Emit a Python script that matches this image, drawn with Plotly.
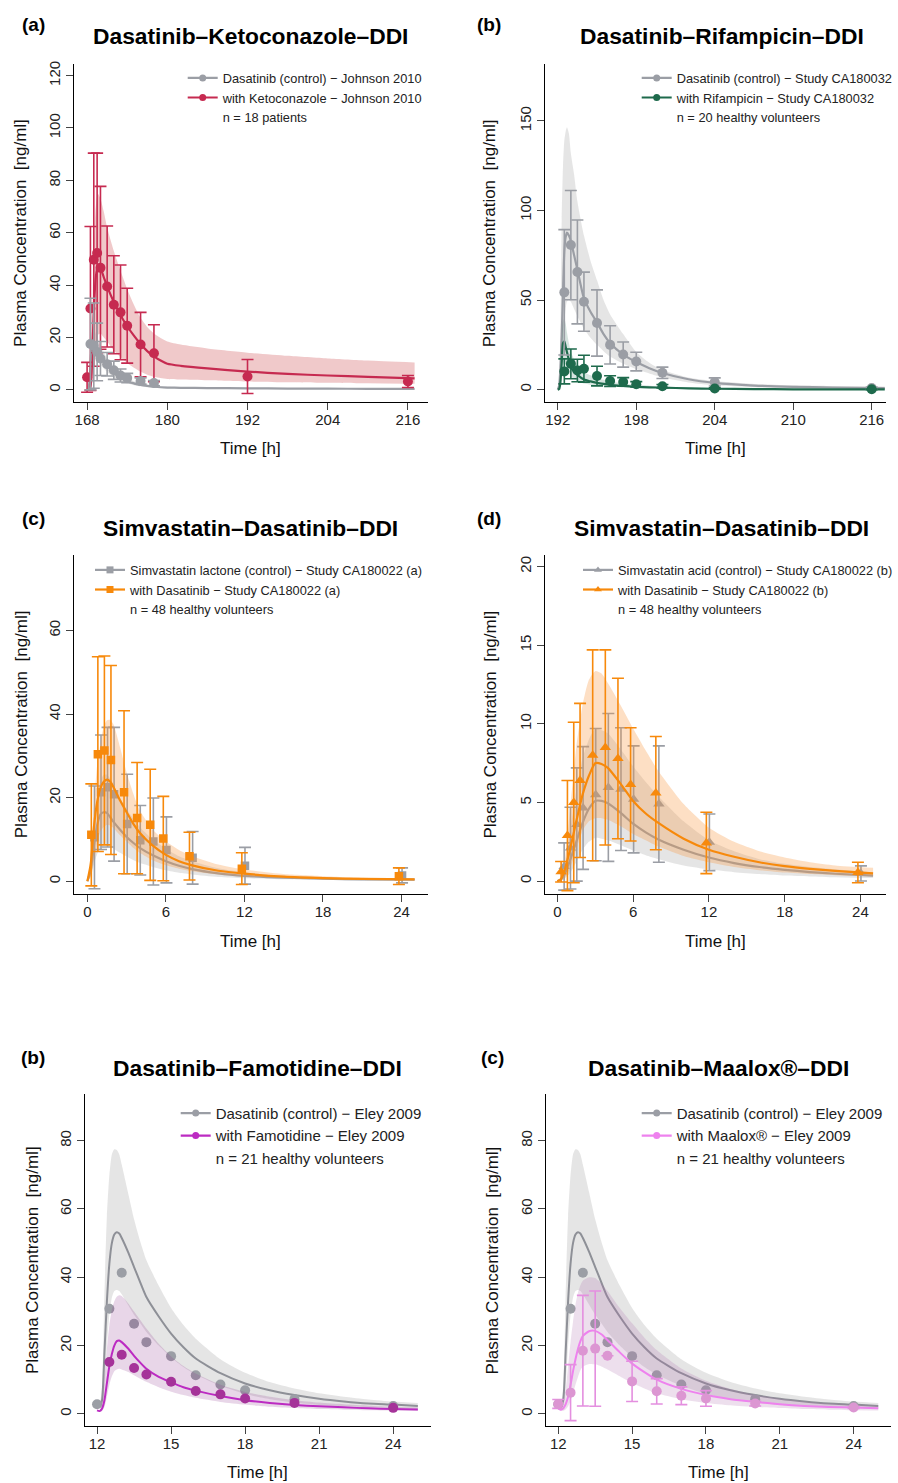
import plotly.graph_objects as go

# ---------------------------------------------------------------- data ----
# (a) Dasatinib - Ketoconazole (Johnson 2010)
a_ctrl_t = [168.5, 169, 169.5, 170, 171, 172, 173, 174, 176, 178]
a_ctrl_mean = [17.5, 16.9, 14.5, 12.0, 9.8, 7.5, 5.5, 4.5, 3.4, 2.6]
a_ctrl_sd = [17.5, 16.3, 11.0, 6.5, 4.5, 3.5, 2.5, 1.8, 1.2, 1.0]
a_keto_t = [168, 168.5, 169, 169.5, 170, 171, 172, 173, 174, 176, 178, 192, 216]
a_keto_mean = [4.8, 31.1, 49.7, 52.3, 46.6, 39.5, 32.5, 29.6, 24.5, 17.3, 14.0, 5.1, 3.2]
a_keto_sd = [5.7, 31.3, 40.7, 38.1, 31.1, 23.1, 18.7, 18.1, 14.3, 12.3, 10.9, 6.5, 2.3]
a_t_sim = [168.0, 168.2, 168.4, 168.6, 168.8, 169.0, 169.3, 169.6, 170.0, 170.5, 171, 172, 173, 174,
           175, 176, 177, 178, 179, 180, 182, 186, 192, 198, 204, 210, 217]
a_keto_sim = [0.3, 0.3, 0.5, 3, 15, 30, 43, 47.3, 46.5, 43, 39.5, 33.5, 28.5, 24.3, 20.7, 17.5, 14.8,
              12.8, 11.2, 10.0, 9.2, 8.2, 7.0, 6.1, 5.5, 5.0, 4.4]
a_keto_hi = [0.5, 0.5, 1, 8, 30, 55, 70, 75, 73, 68, 62, 53, 45.5, 38.5, 32.5, 27.5, 24, 21.5, 19.8,
             18.5, 17.3, 15.8, 14.2, 13.0, 12.0, 11.2, 10.5]
a_keto_lo = [0.1, 0.1, 0.2, 1, 4, 10, 17, 21, 21.5, 20, 18.5, 15, 12.5, 10.3, 8.5, 7.0, 5.8, 5.0, 4.5,
             4.2, 4.0, 3.7, 3.2, 2.9, 2.7, 2.5, 2.3]
a_ctrl_sim = [0.2, 0.5, 5, 14, 18.5, 18, 16.5, 15, 13.2, 11.2, 9.3, 6.5, 4.6, 3.3, 2.5, 1.9, 1.5, 1.2,
              1.0, 0.9, 0.8, 0.7, 0.6, 0.5, 0.45, 0.42, 0.4]
a_ctrl_hi = [0.3, 0.8, 7, 19, 24, 23.5, 21.5, 19.5, 17, 14.5, 12, 8.5, 6, 4.3, 3.3, 2.5, 2.0, 1.6,
             1.35, 1.2, 1.05, 0.95, 0.8, 0.7, 0.62, 0.57, 0.55]
a_ctrl_lo = [0.1, 0.3, 3, 9.5, 13, 13, 12, 11, 9.6, 8.2, 6.8, 4.7, 3.3, 2.4, 1.8, 1.35, 1.05, 0.85,
             0.72, 0.63, 0.56, 0.5, 0.43, 0.36, 0.32, 0.3, 0.28]

# (b) Dasatinib - Rifampicin (Study CA180032)
b_t_obs = [192.5, 193, 193.5, 194, 195, 196, 197, 198, 200, 204, 216]
b_ctrl_mean = [54.3, 80.7, 65.7, 49.1, 37.2, 25.0, 19.6, 15.7, 9.4, 4.3, 0.9]
b_ctrl_sd = [35.0, 30.5, 29.0, 16.5, 18.5, 10.7, 7.0, 5.2, 3.2, 2.3, 0.5]
b_rif_mean = [10.2, 14.4, 10.7, 11.7, 7.6, 4.8, 4.3, 3.0, 1.9, 0.6, 0.2]
b_rif_sd = [7.0, 8.3, 6.3, 7.5, 5.5, 3.0, 2.4, 1.5, 1.0, 0.4, 0.2]
b_t_sim = [192.0, 192.1, 192.2, 192.3, 192.4, 192.5, 192.6, 192.7, 192.85, 193.0, 193.25, 193.5,
           194.0, 194.5, 195, 195.5, 196, 197, 198, 199, 200, 202, 204, 207, 210, 213, 217]
b_ctrl_sim = [0, 2, 12, 30, 55, 77, 85, 87.6, 86, 83, 75, 67, 51, 43.5, 37.5, 31, 26, 19.5, 15.4, 12,
              9.3, 5.8, 3.8, 2.3, 1.6, 1.2, 0.9]
b_ctrl_hi = [0, 5, 30, 95, 125, 139, 144, 146.5, 143, 132, 120, 105, 86, 72, 61, 50, 42, 31, 21, 15,
             11, 6.8, 4.8, 3.2, 2.4, 2.0, 1.7]
b_ctrl_lo = [0, 0.5, 3, 12, 25, 38, 45, 49, 50, 49, 45, 41, 34, 29, 25, 21.5, 18.5, 14.5, 11.5, 9,
             6.8, 4.0, 2.4, 1.3, 0.8, 0.6, 0.4]
b_rif_sim = [0, 0.3, 4, 15, 26, 27, 24, 21, 16.5, 12.5, 10, 8.2, 5.6, 4.6, 3.8, 3.2, 2.7, 2.1, 1.6,
             1.3, 1.1, 0.75, 0.5, 0.3, 0.2, 0.15, 0.1]
b_rif_hi = [0, 0.5, 7, 25, 38, 40, 37, 32, 26, 21, 17, 14, 10, 8, 6.5, 5.5, 4.6, 3.5, 2.7, 2.2, 1.8,
            1.2, 0.8, 0.5, 0.35, 0.25, 0.2]
b_rif_lo = [0, 0.1, 2, 8, 14, 15, 14, 12, 9.5, 7.5, 6, 5, 3.4, 2.8, 2.3, 1.9, 1.6, 1.2, 0.9, 0.75,
            0.6, 0.4, 0.25, 0.15, 0.1, 0.07, 0.05]

# (c) Simvastatin lactone - Dasatinib (Study CA180022 (a))
c_t_obs = [0.5, 1, 1.5, 2, 3, 4, 5, 6, 8, 12, 24]
c_ctrl_mean = [10.5, 21.3, 22.5, 20.8, 13.7, 9.8, 9.5, 7.5, 5.6, 3.7, 1.4]
c_ctrl_sd = [12.3, 13.7, 14.3, 16.0, 11.9, 8.3, 10.4, 7.9, 6.3, 4.4, 1.8]
c_dasa_mean = [11.1, 30.4, 31.3, 29.0, 21.3, 15.1, 13.5, 10.2, 6.0, 3.0, 1.2]
c_dasa_sd = [12.2, 23.3, 22.6, 22.6, 19.5, 13.3, 13.3, 10.1, 5.7, 3.8, 2.0]
c_t_sim = [0, 0.25, 0.5, 0.75, 1.0, 1.25, 1.5, 1.75, 2.0, 2.5, 3, 3.5, 4, 5, 6, 7, 8, 10, 12, 15,
           18, 21, 25]
c_dasa_sim = [0, 4, 13, 19, 22.3, 23.8, 24.3, 23.8, 22.5, 19.3, 16.5, 13.8, 11.6, 8.5, 6.3, 4.8, 3.8,
              2.5, 1.8, 1.1, 0.75, 0.55, 0.45]
c_dasa_hi = [0, 6, 18, 28, 33, 37, 38.5, 38.6, 37.5, 32, 26, 21, 17, 12.3, 9.5, 7.5, 6.0, 4.0, 2.8,
             1.7, 1.2, 0.85, 0.7]
c_dasa_lo = [0, 1, 5, 9, 12, 13, 13.5, 13.3, 12.7, 11, 9.5, 8, 6.8, 5, 3.8, 3.0, 2.4, 1.6, 1.1, 0.7,
             0.45, 0.35, 0.3]
c_ctrl_sim = [0, 2.5, 8.5, 13.5, 16, 16.5, 16.3, 15.3, 14.2, 12.3, 10.6, 9.2, 8.0, 6.2, 4.8, 3.7,
              2.9, 1.9, 1.3, 0.85, 0.6, 0.45, 0.4]
c_ctrl_hi = [0, 4, 13, 20, 24, 25.5, 25.5, 24.5, 23, 20, 17.3, 15, 13, 10, 7.8, 6.0, 4.8, 3.1, 2.1,
             1.3, 0.95, 0.7, 0.6]
c_ctrl_lo = [0, 1, 4, 6.5, 8, 8.5, 8.5, 8.2, 7.8, 6.8, 5.9, 5.1, 4.4, 3.4, 2.6, 2.0, 1.6, 1.0, 0.7,
             0.45, 0.3, 0.25, 0.2]

# (d) Simvastatin acid - Dasatinib (Study CA180022 (b))
d_t_obs = [0.5, 1, 1.5, 2, 3, 4, 5, 6, 8, 12, 24]
d_ctrl_mean = [0.93, 2.1, 3.6, 4.65, 5.5, 5.96, 5.85, 5.2, 4.9, 2.47, 0.49]
d_ctrl_sd = [1.5, 2.6, 3.6, 3.9, 4.2, 4.7, 3.9, 3.4, 3.7, 1.8, 0.48]
d_dasa_mean = [0.6, 2.9, 5.0, 6.4, 8.0, 8.5, 7.8, 6.15, 5.6, 2.43, 0.55]
d_dasa_sd = [0.65, 3.5, 5.1, 4.9, 6.7, 6.2, 5.1, 3.6, 3.6, 1.95, 0.65]
d_t_sim = [0, 0.25, 0.5, 0.75, 1.0, 1.5, 2.0, 2.5, 3.0, 3.5, 4, 5, 6, 7, 8, 10, 12, 14, 16, 18, 20,
           22, 25]
d_dasa_sim = [0, 0.1, 0.5, 1.2, 2.0, 3.8, 5.5, 6.7, 7.5, 7.45, 7.2, 6.2, 5.1, 4.3, 3.7, 2.7, 2.0,
              1.55, 1.2, 0.95, 0.78, 0.65, 0.5]
d_dasa_hi = [0, 0.2, 0.8, 2.5, 4.5, 8.5, 11.2, 12.8, 13.35, 13.2, 12.6, 11.2, 9.7, 8.3, 7.0, 4.9, 3.4,
             2.5, 1.9, 1.5, 1.2, 1.0, 0.85]
d_dasa_lo = [0, 0.05, 0.1, 0.4, 0.8, 2.0, 3.2, 3.8, 4.0, 4.0, 3.9, 3.5, 3.0, 2.6, 2.2, 1.6, 1.2, 0.9,
             0.7, 0.55, 0.45, 0.38, 0.3]
d_ctrl_sim = [0, 0.1, 0.3, 0.8, 1.3, 2.5, 3.7, 4.6, 5.1, 5.1, 4.95, 4.35, 3.65, 3.1, 2.65, 2.0, 1.5,
              1.15, 0.9, 0.72, 0.58, 0.47, 0.35]
d_ctrl_hi = [0, 0.1, 0.6, 1.7, 3.0, 5.8, 7.8, 9.0, 9.7, 9.6, 9.4, 8.4, 7.3, 6.3, 5.4, 3.8, 2.6, 1.9,
             1.4, 1.1, 0.9, 0.75, 0.55]
d_ctrl_lo = [0, 0.05, 0.1, 0.3, 0.5, 1.2, 2.0, 2.5, 2.75, 2.7, 2.6, 2.3, 1.95, 1.65, 1.4, 1.0, 0.75,
             0.57, 0.45, 0.36, 0.3, 0.25, 0.2]

# (e)/(f) Dasatinib - Famotidine / Maalox (Eley 2009)
ef_ctrl_t = [12, 12.5, 13, 13.5, 14, 15, 16, 17, 18, 20, 24]
ef_ctrl_mean = [2.8, 30.8, 41.3, 26.4, 21.0, 16.9, 11.3, 8.6, 6.9, 4.3, 2.3]
e_famo_t = [12.5, 13, 13.5, 14, 15, 16, 17, 18, 20, 24]
e_famo_mean = [15.2, 17.3, 13.4, 11.5, 9.4, 6.7, 5.7, 4.5, 3.2, 1.75]
f_maal_t = [12, 12.5, 13, 13.5, 14, 15, 16, 17, 18, 20, 24]
f_maal_mean = [2.9, 6.2, 18.5, 19.1, 17.0, 9.5, 6.6, 5.3, 4.5, 3.0, 1.85]
f_maal_sd = [1.3, 8.2, 16.2, 16.9, None, 5.9, 3.7, 2.6, 2.3, 0.7, 0.3]
ef_t_sim = [12.0, 12.1, 12.2, 12.3, 12.4, 12.5, 12.6, 12.7, 12.8, 12.9, 13.0, 13.25, 13.5, 13.75,
            14.0, 14.5, 15.0, 15.5, 16.0, 17.0, 18.0, 19.0, 20.0, 21.0, 22.0, 23.0, 24.0, 25.0]
ef_ctrl_sim = [3.0, 2.3, 4.0, 18, 33, 44, 50, 52.5, 53.2, 52.8, 51.5, 47.5, 43, 38.5, 34.2, 28.5,
               23.5, 19.5, 16.2, 11.9, 8.9, 6.9, 5.5, 4.4, 3.6, 3.0, 2.7, 2.3]
ef_ctrl_hi = [3.5, 3.0, 8, 35, 58, 70, 76, 77.5, 77.3, 76, 73, 65, 57, 50.5, 45, 37.5, 31, 26, 22,
              16, 12, 9.3, 7.4, 6.0, 5.0, 4.2, 3.6, 3.2]
ef_ctrl_lo = [2.5, 1.6, 2.0, 8, 20, 29, 34, 36, 36.3, 36, 35, 32, 29, 26.5, 24, 20, 16.5, 13.7, 11.5,
              8.2, 5.8, 4.3, 3.3, 2.6, 2.2, 1.9, 1.7, 1.5]
e_famo_sim = [1.0, 0.8, 1.5, 4, 9, 14, 17.5, 20, 21.3, 21.5, 21.0, 19.2, 17.0, 15.0, 13.2, 10.8, 9.2,
              7.8, 6.8, 5.2, 4.0, 3.2, 2.6, 2.2, 1.9, 1.6, 1.45, 1.3]
e_famo_hi = [1.2, 1.0, 3, 10, 19, 26, 30.5, 33, 34.3, 34.7, 34.5, 32.5, 30, 27.5, 25, 20.5, 16.8, 14,
             11.8, 8.5, 6.4, 5.0, 4.0, 3.3, 2.8, 2.4, 2.1, 1.9]
e_famo_lo = [0.8, 0.6, 0.8, 2, 5, 8.5, 11, 12.5, 13.0, 13.2, 13.0, 12.3, 11.3, 10.3, 9.4, 7.8, 6.5,
             5.5, 4.7, 3.5, 2.7, 2.1, 1.7, 1.4, 1.2, 1.05, 0.95, 0.85]
f_maal_sim = [1.5, 1.2, 1.6, 2.8, 5, 8.5, 12.5, 16, 19, 21.3, 22.8, 24.2, 24.3, 23.3, 21.6, 18.0,
              14.7, 12.2, 10.0, 7.3, 5.5, 4.3, 3.5, 2.8, 2.3, 2.0, 1.85, 1.65]
f_maal_hi = [1.8, 1.5, 3.0, 7, 14, 21, 27, 32, 35.5, 37.7, 39, 40, 39.8, 38.2, 36, 31, 26.5, 22.3,
             18.7, 13.3, 9.7, 7.3, 5.6, 4.5, 3.6, 3.0, 2.6, 2.4]
f_maal_lo = [1.2, 0.9, 0.9, 1.3, 2.2, 3.8, 6, 8.5, 10.8, 12.8, 13.8, 14.6, 14.5, 13.9, 13.0, 11.0,
             9.0, 7.4, 6.0, 4.3, 3.2, 2.5, 2.0, 1.7, 1.4, 1.2, 1.05, 0.95]

# ------------------------------------------------------------- styling ----
FONT = "Liberation Sans, Arial, Helvetica, sans-serif"
W, H = 898, 1483
GRAY = "#9B9EA5"
RED = "#C62A50"
GREEN = "#1E6A4C"
ORANGE = "#F7890B"
PURPLE_LINE = "#BC2BC2"
PURPLE_PT = "#A53399"
PINK_LINE = "#EE82EE"
PINK_PT = "#DC96D2"
GRAY_BAND = "rgba(160,160,160,0.28)"
RED_BAND = "rgba(205,75,80,0.30)"
GREEN_BAND = "rgba(30,106,76,0.18)"
ORANGE_BAND = "rgba(250,150,60,0.30)"
PURPLE_BAND = "rgba(140,50,140,0.20)"
PINK_BAND = "rgba(175,110,175,0.22)"
DODGE_TRT = -0.2
DODGE_CTRL = 0.04

# panel geometry in pixels (left, right), (top, bottom)
panels = {
    1: dict(px=(74, 427.7), py=(60.7, 400), xr=[166.04, 218.96], yr=[-4.7, 124.6],
            xt=[168, 180, 192, 204, 216], yt=[0, 20, 40, 60, 80, 100, 120]),
    2: dict(px=(544.7, 885.7), py=(60.7, 400), xr=[191.0, 217.07], yr=[-7, 182],
            xt=[192, 198, 204, 210, 216], yt=[0, 50, 100, 150]),
    3: dict(px=(74.3, 427.7), py=(552.7, 892.7), xr=[-1.0, 26.0], yr=[-3.03, 78.15],
            xt=[0, 6, 12, 18, 24], yt=[0, 20, 40, 60]),
    4: dict(px=(544.7, 885.7), py=(552.7, 892.7), xr=[-1.0, 26.0], yr=[-0.81, 20.76],
            xt=[0, 6, 12, 18, 24], yt=[0, 5, 10, 15, 20]),
    5: dict(px=(84.7, 430.7), py=(1093.3, 1426), xr=[11.5, 25.52], yr=[-3.6, 93.66],
            xt=[12, 15, 18, 21, 24], yt=[0, 20, 40, 60, 80]),
    6: dict(px=(545.7, 891.3), py=(1093.3, 1426), xr=[11.49, 25.53], yr=[-3.6, 93.66],
            xt=[12, 15, 18, 21, 24], yt=[0, 20, 40, 60, 80]),
}

fig = go.Figure()


def axref(i):
    return ("x" if i == 1 else f"x{i}"), ("y" if i == 1 else f"y{i}")


def band(i, t, lo, hi, color):
    xa, ya = axref(i)
    fig.add_trace(go.Scatter(x=t, y=lo, mode="lines", line=dict(width=0, shape="spline", smoothing=0.6),
                             hoverinfo="skip", showlegend=False, xaxis=xa, yaxis=ya))
    fig.add_trace(go.Scatter(x=t, y=hi, mode="lines", line=dict(width=0, shape="spline", smoothing=0.6),
                             fill="tonexty", fillcolor=color, hoverinfo="skip", showlegend=False,
                             xaxis=xa, yaxis=ya))


def sim(i, t, y, color, width=2.2):
    xa, ya = axref(i)
    fig.add_trace(go.Scatter(x=t, y=y, mode="lines", line=dict(color=color, width=width, shape="spline",
                                                                smoothing=0.6),
                             showlegend=False, xaxis=xa, yaxis=ya))


def obs(i, t, mean, sd, color, symbol="circle", size=10, dodge=0.0, ecolor=None, opacity=1.0):
    xa, ya = axref(i)
    err = None
    if sd is not None:
        err = dict(type="data", array=sd, visible=True, color=ecolor or color, thickness=1.6, width=6)
    fig.add_trace(go.Scatter(x=[v + dodge for v in t], y=mean, mode="markers",
                             marker=dict(symbol=symbol, size=size, color=color, line=dict(width=0)),
                             error_y=err, opacity=opacity, showlegend=False, xaxis=xa, yaxis=ya))


def legend_entry(i, name, color, symbol="circle"):
    xa, ya = axref(i)
    lg = "legend" if i == 1 else f"legend{i}"
    if color is None:
        fig.add_trace(go.Scatter(x=[None], y=[None], mode="lines", name=name,
                                 line=dict(color="rgba(0,0,0,0)", width=0),
                                 legend=lg, showlegend=True, xaxis=xa, yaxis=ya))
    else:
        fig.add_trace(go.Scatter(x=[None], y=[None], mode="lines+markers", name=name,
                                 line=dict(color=color, width=2.2),
                                 marker=dict(symbol=symbol, size=7, color=color),
                                 legend=lg, showlegend=True, xaxis=xa, yaxis=ya))


# (a)
band(1, a_t_sim, a_keto_lo, a_keto_hi, RED_BAND)
band(1, a_t_sim, a_ctrl_lo, a_ctrl_hi, GRAY_BAND)
sim(1, a_t_sim, a_keto_sim, RED)
sim(1, a_t_sim, a_ctrl_sim, GRAY)
obs(1, a_keto_t, a_keto_mean, a_keto_sd, RED)
obs(1, a_ctrl_t, a_ctrl_mean, a_ctrl_sd, GRAY)
legend_entry(1, "Dasatinib (control) \u2212 Johnson 2010", GRAY)
legend_entry(1, "with Ketoconazole \u2212 Johnson 2010", RED)
legend_entry(1, "n = 18 patients", None)

# (b)
band(2, b_t_sim, b_ctrl_lo, b_ctrl_hi, GRAY_BAND)
sim(2, b_t_sim, b_ctrl_sim, GRAY)
band(2, b_t_sim, b_rif_lo, b_rif_hi, GREEN_BAND)
sim(2, b_t_sim, b_rif_sim, GREEN)
obs(2, b_t_obs, b_ctrl_mean, b_ctrl_sd, GRAY)
obs(2, b_t_obs, b_rif_mean, b_rif_sd, GREEN)
legend_entry(2, "Dasatinib (control) \u2212 Study CA180032", GRAY)
legend_entry(2, "with Rifampicin \u2212 Study CA180032", GREEN)
legend_entry(2, "n = 20 healthy volunteers", None)

# (c)
band(3, c_t_sim, c_ctrl_lo, c_ctrl_hi, GRAY_BAND)
sim(3, c_t_sim, c_ctrl_sim, GRAY)
obs(3, c_t_obs, c_ctrl_mean, c_ctrl_sd, GRAY, symbol="square", size=8.5, dodge=DODGE_CTRL)
band(3, c_t_sim, c_dasa_lo, c_dasa_hi, ORANGE_BAND)
sim(3, c_t_sim, c_dasa_sim, ORANGE)
obs(3, c_t_obs, c_dasa_mean, c_dasa_sd, ORANGE, symbol="square", size=8.5, dodge=DODGE_TRT)
legend_entry(3, "Simvastatin lactone (control) \u2212 Study CA180022 (a)", GRAY, "square")
legend_entry(3, "with Dasatinib \u2212 Study CA180022 (a)", ORANGE, "square")
legend_entry(3, "n = 48 healthy volunteers", None)

# (d)
band(4, d_t_sim, d_ctrl_lo, d_ctrl_hi, GRAY_BAND)
sim(4, d_t_sim, d_ctrl_sim, GRAY)
obs(4, d_t_obs, d_ctrl_mean, d_ctrl_sd, GRAY, symbol="triangle-up", size=10, dodge=DODGE_CTRL)
band(4, d_t_sim, d_dasa_lo, d_dasa_hi, ORANGE_BAND)
sim(4, d_t_sim, d_dasa_sim, ORANGE)
obs(4, d_t_obs, d_dasa_mean, d_dasa_sd, ORANGE, symbol="triangle-up", size=10, dodge=DODGE_TRT)
legend_entry(4, "Simvastatin acid (control) \u2212 Study CA180022 (b)", GRAY, "triangle-up")
legend_entry(4, "with Dasatinib \u2212 Study CA180022 (b)", ORANGE, "triangle-up")
legend_entry(4, "n = 48 healthy volunteers", None)

# (e) famotidine
band(5, ef_t_sim, ef_ctrl_lo, ef_ctrl_hi, GRAY_BAND)
sim(5, ef_t_sim, ef_ctrl_sim, "#8E9097", 2.0)
obs(5, ef_ctrl_t, ef_ctrl_mean, None, GRAY)
band(5, ef_t_sim, e_famo_lo, e_famo_hi, PURPLE_BAND)
sim(5, ef_t_sim, e_famo_sim, PURPLE_LINE, 2.0)
obs(5, e_famo_t, e_famo_mean, None, PURPLE_PT)
legend_entry(5, "Dasatinib (control) \u2212 Eley 2009", GRAY)
legend_entry(5, "with Famotidine \u2212 Eley 2009", PURPLE_LINE)
legend_entry(5, "n = 21 healthy volunteers", None)

# (f) maalox
band(6, ef_t_sim, ef_ctrl_lo, ef_ctrl_hi, GRAY_BAND)
sim(6, ef_t_sim, ef_ctrl_sim, "#8E9097", 2.0)
obs(6, ef_ctrl_t, ef_ctrl_mean, None, GRAY)
band(6, ef_t_sim, f_maal_lo, f_maal_hi, PINK_BAND)
sim(6, ef_t_sim, f_maal_sim, PINK_LINE, 2.0)
obs(6, f_maal_t, f_maal_mean, f_maal_sd, PINK_PT, ecolor="#E48FDF")
legend_entry(6, "Dasatinib (control) \u2212 Eley 2009", GRAY)
legend_entry(6, "with Maalox\u00ae \u2212 Eley 2009", PINK_LINE)
legend_entry(6, "n = 21 healthy volunteers", None)

# -------------------------------------------------------------- layout ----
layout = dict(width=W, height=H, margin=dict(l=0, r=0, t=0, b=0),
              paper_bgcolor="white", plot_bgcolor="white",
              font=dict(family=FONT, color="#222"), showlegend=True)

for i, p in panels.items():
    xk = "xaxis" if i == 1 else f"xaxis{i}"
    yk = "yaxis" if i == 1 else f"yaxis{i}"
    xa, ya = axref(i)
    common = dict(showline=True, linecolor="black", linewidth=1.3, ticks="outside", ticklen=7,
                  tickwidth=1.2, tickcolor="#444", showgrid=False, zeroline=False,
                  tickfont=dict(family=FONT, size=15, color="#222"), fixedrange=True)
    layout[xk] = dict(domain=[p["px"][0] / W, p["px"][1] / W], range=p["xr"], tickvals=p["xt"],
                      anchor=ya, ticklabelstandoff=-3, **common)
    layout[yk] = dict(domain=[1 - p["py"][1] / H, 1 - p["py"][0] / H], range=p["yr"],
                      tickvals=p["yt"], anchor=xa, tickangle=-90, **common)

# legends: (text-left px, first-row-center px, font size)
leg_pos = {1: (222.7, 75, 12.8), 2: (676.7, 75, 12.8), 3: (130, 568, 12.8),
           4: (618, 568, 12.8), 5: (215.7, 1112.3, 15), 6: (676.7, 1112.3, 15)}
for i, (tx, ty, fs) in leg_pos.items():
    lk = "legend" if i == 1 else f"legend{i}"
    item_h = fs * 1.3 + 3
    layout[lk] = dict(x=(tx - 40) / W, y=1 - (ty - 5 - item_h / 2) / H, xanchor="left", yanchor="top",
                      bgcolor="rgba(0,0,0,0)", borderwidth=0, itemwidth=30,
                      font=dict(family=FONT, size=fs, color="#222"), traceorder="normal")

fig.update_layout(**layout)

# titles, panel labels and axis titles
titles = [("Dasatinib\u2013Ketoconazole\u2013DDI", 251, 33, "(a)", 33, 22),
          ("Dasatinib\u2013Rifampicin\u2013DDI", 721.5, 33, "(b)", 489, 22),
          ("Simvastatin\u2013Dasatinib\u2013DDI", 251, 526, "(c)", 33, 516.5),
          ("Simvastatin\u2013Dasatinib\u2013DDI", 721, 526, "(d)", 489, 516.5),
          ("Dasatinib\u2013Famotidine\u2013DDI", 257.5, 1067.3, "(b)", 33, 1056.5),
          ("Dasatinib\u2013Maalox\u00ae\u2013DDI", 718.5, 1067.3, "(c)", 492.7, 1056.5)]
ann = []
for t, x, y, lab, lx, ly in titles:
    ann.append(dict(text=f"<b>{t}</b>", x=x / W, y=1 - y / H, xref="paper", yref="paper",
                    xanchor="center", yanchor="middle", showarrow=False,
                    font=dict(family=FONT, size=22.8, color="black")))
    ann.append(dict(text=f"<b>{lab}</b>", x=lx / W, y=1 - ly / H, xref="paper", yref="paper",
                    xanchor="center", yanchor="middle", showarrow=False,
                    font=dict(family=FONT, size=19, color="black")))

ytitle_x = {1: 21, 2: 490.3, 3: 21, 4: 490.3, 5: 32, 6: 492.3}
xtitle_y = {1: 446.7, 2: 446.7, 3: 940, 4: 940, 5: 1472.3, 6: 1472.3}
for i, p in panels.items():
    cx = (p["px"][0] + p["px"][1]) / 2
    cy = (p["py"][0] + p["py"][1]) / 2
    ann.append(dict(text="Time [h]", x=cx / W, y=1 - xtitle_y[i] / H, xref="paper", yref="paper",
                    xanchor="center", yanchor="middle", showarrow=False,
                    font=dict(family=FONT, size=17, color="#111")))
    ann.append(dict(text="Plasma Concentration\u00a0 [ng/ml]", x=ytitle_x[i] / W, y=1 - cy / H,
                    xref="paper", yref="paper", xanchor="center", yanchor="middle", textangle=-90,
                    showarrow=False, font=dict(family=FONT, size=17, color="#111")))

fig.update_layout(annotations=ann)
fig.write_html("out.html", config={"displayModeBar": False},
               post_script="document.body.style.margin='0';document.body.style.overflow='hidden';")
